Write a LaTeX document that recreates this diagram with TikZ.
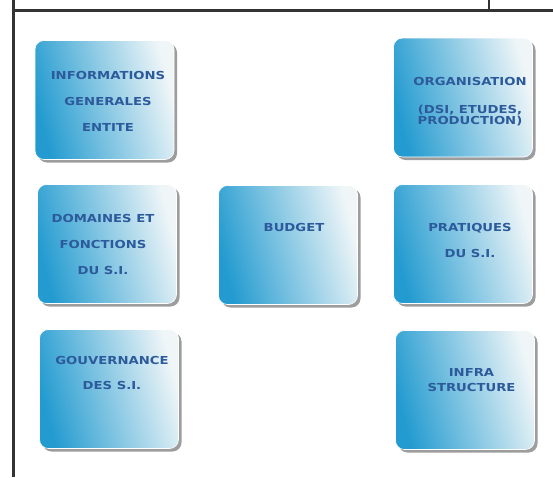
\documentclass[tikz,border=0pt]{standalone}
\usepackage{fontspec}
\newfontfamily\tilefont[FakeStretch=1.2]{DejaVu Sans}
\usetikzlibrary{shadows}
\definecolor{rule}{HTML}{333333}
\definecolor{tileblue}{HTML}{239BD0}
\definecolor{tilemid}{HTML}{6BBCE0}
\definecolor{tilepale}{HTML}{F0F6F8}
\definecolor{tileink}{HTML}{2C5A9A}

\begin{document}
\begin{tikzpicture}[
  x=1pt, y=-1pt,
  tile/.style={rounded corners=9pt, minimum width=139pt, minimum height=119pt,
    inner sep=0pt, draw=white, line width=.6pt,
    left color=tileblue, middle color=tilemid, right color=tilepale, shading angle=105,
    drop shadow={shadow xshift=3pt, shadow yshift=-3pt, opacity=.55, fill=black!70}},
  tiletext/.style={font=\tilefont\bfseries\fontsize{11}{12}\selectfont,
    text=tileink, align=center, inner sep=0pt},
  frame/.style={draw=rule, line width=2.2pt}
]
  \useasboundingbox (0,0) rectangle (553,477);

  % table rules round the panel
  \draw[frame] (13.5,0) -- (13.5,477);
  \draw[frame] (13.5,10.5) -- (553,10.5);
  \draw[frame] (489,0) -- (489,10.5);

  \node[tile] (infos) at (104.5,100) {};
  \node[tile] (orga) at (463,97.5) {};
  \node[tile] (domaines) at (107,244) {};
  \node[tile] (budget) at (288,245) {};
  \node[tile] (pratiques) at (463,244) {};
  \node[tile] (gouv) at (109,389) {};
  \node[tile] (infra) at (465,390) {};

  \node[tiletext] (infostxt) at (108,101.5) {INFORMATIONS\\[14pt]GENERALES\\[14pt]ENTITE};
  \node[tiletext] (orgatxt) at (470,101.5) {ORGANISATION\\[16pt](DSI, ETUDES,\\[-1pt]PRODUCTION)};
  \node[tiletext] (domainestxt) at (103,244) {DOMAINES ET\\[14pt]FONCTIONS\\[14pt]DU S.I.};
  \node[tiletext] (budgettxt) at (294,227) {BUDGET};
  \node[tiletext] (pratiquestxt) at (470,240) {PRATIQUES\\[14pt]DU S.I.};
  \node[tiletext] (gouvtxt) at (112,372.5) {GOUVERNANCE\\[13pt]DES S.I.};
  \node[tiletext] (infratxt) at (471.5,380) {INFRA\\[3pt]STRUCTURE};
\end{tikzpicture}
\end{document}
